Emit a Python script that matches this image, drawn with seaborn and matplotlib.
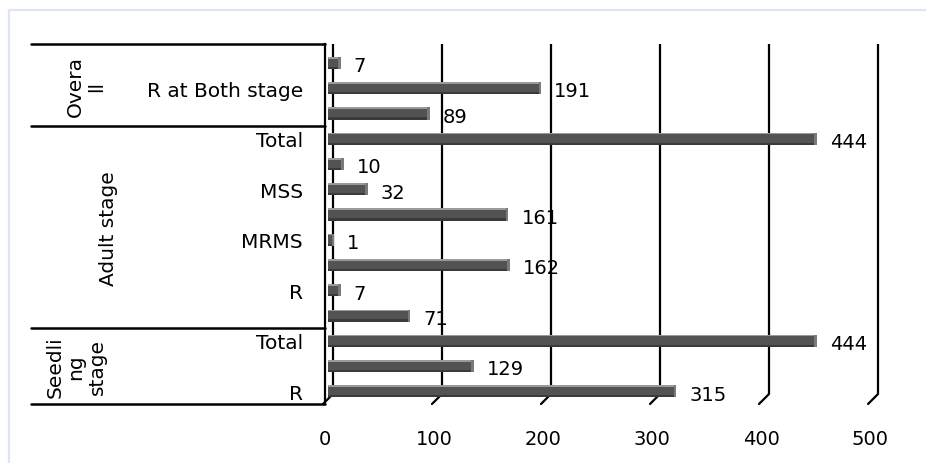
import matplotlib
matplotlib.use("Agg")
import matplotlib.pyplot as plt
import numpy as np
import pandas as pd
import seaborn as sns
from matplotlib.patches import Rectangle
from matplotlib.lines import Line2D
from matplotlib.transforms import ScaledTranslation

# Rows listed from top to bottom of the chart
sub_labels = ["", "R at Both stage", "", "Total", "", "MSS", "", "MRMS",
              "", "R", "", "Total", "", "R"]
values = [7, 191, 89, 444, 10, 32, 161, 1, 162, 7, 71, 444, 129, 315]
group_names = ["Overa\nll", "Adult stage", "Seedli\nng\nstage"]
group_sizes = [3, 8, 3]
x_ticks = [0, 100, 200, 300, 400, 500]

sns.set_style("white")
plt.rcParams["font.family"] = ["DejaVu Sans"]
plt.rcParams["font.size"] = 14
plt.rcParams["text.color"] = "black"
plt.rcParams["xtick.color"] = "black"
plt.rcParams["ytick.color"] = "black"

W, H = 926, 464
fig = plt.figure(figsize=(W / 100, H / 100), dpi=100)
ax = fig.add_axes([325 / W, 1 - 405 / H, 555 / W, 360 / H])

df = pd.DataFrame({"row": [f"r{i}" for i in range(len(values))],
                   "value": values})
sns.barplot(data=df, x="value", y="row", orient="h", color="#535353",
            saturation=1, width=0.48, ax=ax, zorder=3, linewidth=0)

ax.set_xlim(-7.3, 501.8)
ax.set_ylim(len(values) - 0.5, -0.75)
ax.set_xlabel("")
ax.set_ylabel("")

# 3-D look: bars sit a few pixels in front of the back wall, with a light
# top face, a dark lower edge and a bevelled end cap
px = 1 / 1.09  # data units per pixel along x
depth = 5 * px
for p in ax.patches[:len(values)]:
    p.set_x(p.get_x() - depth)
    p.set_width(p.get_width() + depth)
    x0, y0, w, h = p.get_x(), p.get_y(), p.get_width(), p.get_height()
    ax.add_patch(Rectangle((x0, y0), w, h * 0.14, color="#9a9a9a",
                           lw=0, zorder=4))
    ax.add_patch(Rectangle((x0, y0 + h * 0.82), w, h * 0.18,
                           color="#3a3a3a", lw=0, zorder=4))
    ax.add_patch(Rectangle((x0 + w - 2.5 * px, y0), 2.5 * px, h,
                           color="#7a7a7a", lw=0, zorder=4))

# back-wall gridlines with a slanted floor edge
trans = ax.get_xaxis_transform()
floor = 10 / 360
for v in x_ticks:
    ax.plot([v, v], [1, floor], transform=trans, color="black", lw=1.6,
            clip_on=False, zorder=1, solid_capstyle="butt")
    ax.plot([v, v - 10 * px], [floor, 0], transform=trans, color="black",
            lw=1.6, clip_on=False, zorder=1)

for s in ["top", "right", "bottom"]:
    ax.spines[s].set_visible(False)
ax.spines["left"].set_color("black")
ax.spines["left"].set_linewidth(1.6)

ax.set_xticks(x_ticks)
ax.set_xticklabels([str(t) for t in x_ticks])
ax.tick_params(axis="x", length=0, pad=18, labelsize=14)
for lab in ax.get_xticklabels():
    lab.set_transform(lab.get_transform()
                      + ScaledTranslation(-0.08, 0, fig.dpi_scale_trans))

ax.set_yticks(range(len(values)))
ax.set_yticklabels(sub_labels)
ax.tick_params(axis="y", length=0, pad=16, labelsize=14.5)

# value labels
for i, v in enumerate(values):
    ax.annotate(str(v), (v, i), xytext=(9.4, -2.0), textcoords="offset points",
                ha="left", va="center", fontsize=14, color="black")

# grouped category table on the left
tab_left = (31 - 325) / 555
y_top, y_bot = ax.get_ylim()[1], ax.get_ylim()[0]
bounds = [y_top] + list(np.cumsum(group_sizes)[:-1] - 0.5) + [y_bot]
ytrans = ax.get_yaxis_transform()
for b in bounds:
    ax.plot([tab_left, 0], [b, b], transform=ytrans, color="black", lw=1.8,
            clip_on=False, zorder=2)

group_x = [(86 - 325) / 555, (108 - 325) / 555, (76 - 325) / 555]
for name, gx, b0, b1 in zip(group_names, group_x, bounds[:-1], bounds[1:]):
    ax.text(gx, (b0 + b1) / 2, name, transform=ytrans, rotation=90,
            ha="center", va="center", multialignment="center", fontsize=14.5,
            linespacing=1.15)

# light outer chart border
border = "#dbe5f4"
fig.add_artist(Line2D([9 / W, 9 / W], [0, 1 - 11 / H], color=border, lw=1.6,
                      transform=fig.transFigure))
fig.add_artist(Line2D([9 / W, 1], [1 - 11 / H, 1 - 11 / H], color=border,
                      lw=1.6, transform=fig.transFigure))

fig.savefig("out.png", dpi=100)
